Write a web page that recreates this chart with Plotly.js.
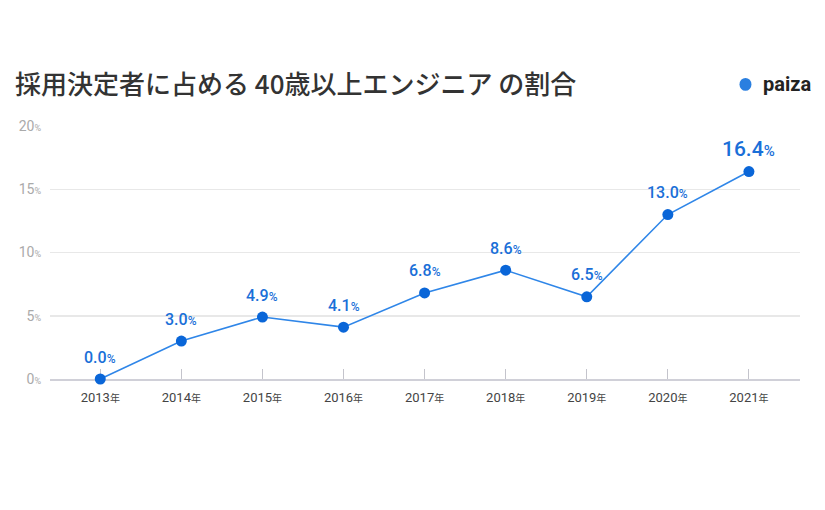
<!DOCTYPE html>
<html><head><meta charset="utf-8">
<script src="https://cdn.plot.ly/plotly-3.0.1.min.js"></script>
<style>body{margin:0;background:#fff}#c{width:825px;height:510px}</style>
</head><body><div id="c"></div>
<script>
const years = ['2013','2014','2015','2016','2017','2018','2019','2020','2021'];
const values = [0.0, 3.0, 4.9, 4.1, 6.8, 8.6, 6.5, 13.0, 16.4];
const yTicks = [0, 5, 10, 15, 20];
const titleText = '採用決定者に占める 40歳以上エンジニア の割合';

const font = '"Noto Sans CJK JP", "Noto Sans", Roboto, sans-serif';
const numFont = 'Roboto, "Noto Sans CJK JP", sans-serif';
const xLabels = years.map(y => y + '<span style="font-size:10px">年</span>');
const yLabels = yTicks.map(v => v + '<span style="font-size:9px">%</span>');

const annotations = values.map((v, i) => {
  const last = i === values.length - 1;
  return {
    x: i, y: v, xref: 'x', yref: 'y',
    text: v.toFixed(1) + '<span style="font-size:' + (last ? 15 : 12) + 'px">%</span>',
    showarrow: false, yshift: last ? 23 : 22, yanchor: 'middle',
    font: {family: numFont, size: last ? 21 : 16, color: '#1a6fd8', weight: 500}
  };
});
annotations.push({
  xref: 'paper', yref: 'paper', x: -0.05, y: 1.17, xanchor: 'left', yanchor: 'middle',
  text: titleText, showarrow: false, font: {family: font, size: 26, color: '#333', weight: 500}
});
annotations.push({
  xref: 'paper', yref: 'paper', x: 1.017, y: 1.165, xanchor: 'right', yanchor: 'middle',
  text: '<b>paiza</b>', showarrow: false, font: {family: 'Roboto, "Noto Sans", sans-serif', size: 20, color: '#222'}
});

const trace = {
  x: years.map((y, i) => i), y: values, type: 'scatter', mode: 'lines+markers',
  line: {color: '#2f86e8', width: 1.6},
  marker: {color: '#0a66d8', size: 11},
  cliponaxis: false, hoverinfo: 'skip'
};

const layout = {
  width: 825, height: 510,
  margin: {l: 50, r: 25, t: 126, b: 131},
  paper_bgcolor: '#fff', plot_bgcolor: 'rgba(0,0,0,0)',
  showlegend: false,
  xaxis: {
    type: 'linear', range: [-0.62, 8.63],
    tickvals: years.map((y, i) => i), ticktext: xLabels,
    showgrid: false, zeroline: false, layer: 'below traces',
    showline: true, linecolor: '#d0d0d8', linewidth: 1.5,
    ticks: 'inside', ticklen: 10, tickcolor: '#c4c4cc', tickwidth: 1,
    tickfont: {family: numFont, size: 13, color: '#444'}, ticklabelstandoff: 6
  },
  yaxis: {
    range: [0, 20], tickvals: yTicks, ticktext: yLabels, layer: 'below traces',
    showgrid: true, gridcolor: '#e8e8e8', gridwidth: 1.5,
    zeroline: false, showline: false, ticks: '',
    tickfont: {family: numFont, size: 14, color: '#aaa'}, ticklabelstandoff: 8
  },
  annotations: annotations,
  shapes: [{
    type: 'circle', xref: 'paper', yref: 'paper',
    x0: 0.9193, x1: 0.9353, y0: 1.139, y1: 1.19,
    fillcolor: '#2a7fe0', line: {width: 0}
  }]
};

Plotly.newPlot('c', [trace], layout, {displayModeBar: false, staticPlot: true});
</script></body></html>
